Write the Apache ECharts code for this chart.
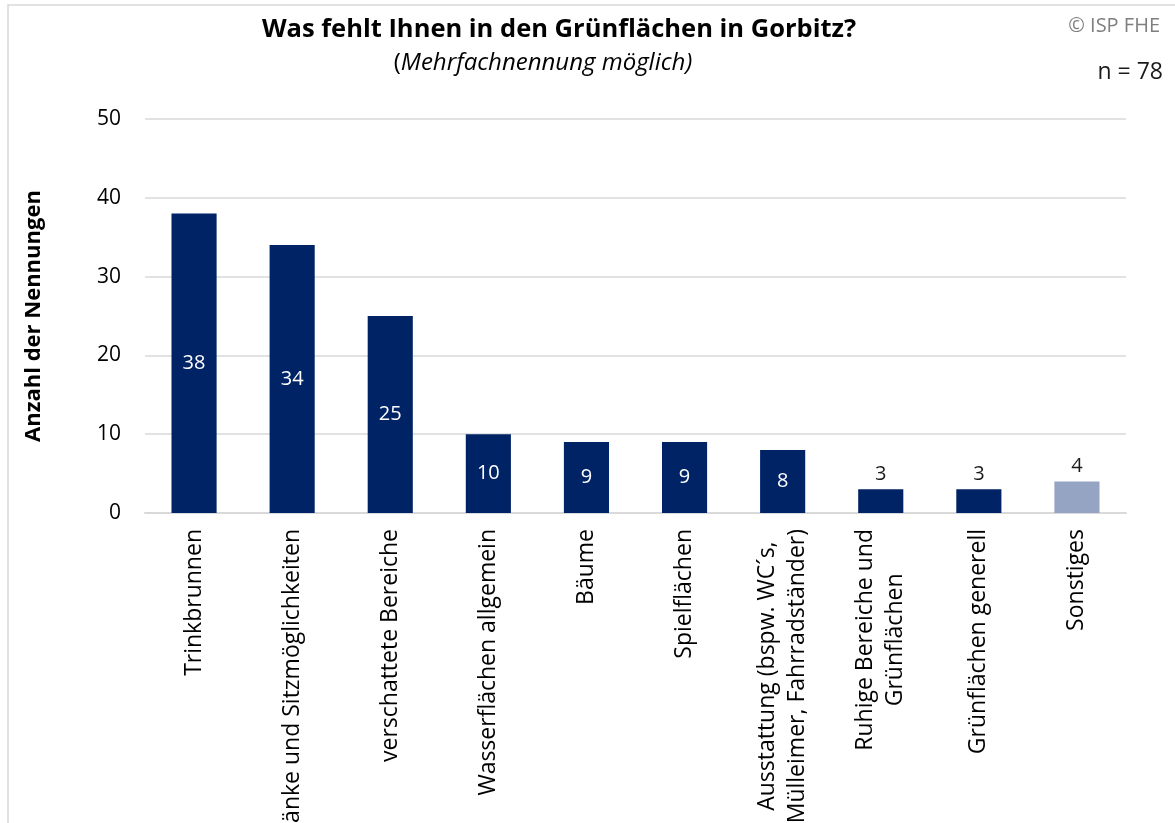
<!DOCTYPE html>
<html>
<head>
<meta charset="utf-8">
<script src="https://cdn.jsdelivr.net/npm/echarts@6/dist/echarts.min.js"></script>
<style>
  html, body { margin: 0; padding: 0; background: #fff; }
  #chart { width: 1175px; height: 823px; }
</style>
</head>
<body>
<div id="chart"></div>
<script>
// Kategorien (Mehrfachnennung) und Anzahl der Nennungen
const categories = [
  'Trinkbrunnen',
  'Bänke und Sitzmöglichkeiten',
  'verschattete Bereiche',
  'Wasserflächen allgemein',
  'Bäume',
  'Spielflächen',
  'Ausstattung (bspw. WC´s,\nMülleimer, Fahrradständer)',
  'Ruhige Bereiche und\nGrünflächen',
  'Grünflächen generell',
  'Sonstiges'
];
const counts = [38, 34, 25, 10, 9, 9, 8, 3, 3, 4];
const yTicks = [0, 10, 20, 30, 40, 50];

const FONT = 'Open Sans';
const NAVY = '#002366';
const LIGHT = '#96a4c3';

// Werte ab 5 stehen im Balken (weiß), kleinere Werte darüber
const seriesData = counts.map((v, i) => {
  const isOther = categories[i] === 'Sonstiges';
  const inside = v >= 5;
  return {
    value: v,
    itemStyle: { color: isOther ? LIGHT : NAVY },
    label: {
      position: inside ? 'inside' : 'top',
      color: inside ? '#ffffff' : '#1a1a1a',
      distance: 5
    }
  };
});

const chart = echarts.init(document.getElementById('chart'), null, { renderer: 'canvas' });

chart.setOption({
  animation: false,
  backgroundColor: '#ffffff',
  textStyle: { fontFamily: FONT },
  graphic: [
    {
      type: 'rect',
      shape: { x: 8, y: 5, width: 1200, height: 900 },
      style: { fill: 'none', stroke: '#d9d9d9', lineWidth: 1.5 },
      silent: true
    },
    {
      type: 'text',
      right: 15, top: 16,
      style: { text: '© ISP FHE', fill: '#7f7f7f', font: '20px "' + FONT + '"' }
    },
    {
      type: 'text',
      right: 12, top: 61,
      style: { text: 'n = 78', fill: '#1a1a1a', font: '23px "' + FONT + '"' }
    }
  ],
  title: [
    {
      text: 'Was fehlt Ihnen in den Grünflächen in Gorbitz?',
      left: 554, top: 12, textAlign: 'center',
      textStyle: { fontFamily: FONT, fontWeight: 'bold', fontSize: 25.5, color: '#000' }
    },
    {
      text: '{n|(}{i|Mehrfachnennung möglich)}',
      left: 538, top: 46, textAlign: 'center',
      textStyle: {
        fontFamily: FONT, fontSize: 24, fontWeight: 'normal', color: '#000',
        rich: {
          n: { fontFamily: FONT, fontSize: 24, fontWeight: 'normal', color: '#000' },
          i: { fontFamily: FONT, fontSize: 24, fontWeight: 'normal', fontStyle: 'italic', color: '#000' }
        }
      }
    }
  ],
  grid: {
    left: 145, right: 49, top: 119, bottom: 310,
    containLabel: false,
    outerBoundsMode: 'none'
  },
  xAxis: {
    type: 'category',
    data: categories,
    axisTick: { show: false },
    axisLine: { lineStyle: { color: '#d9d9d9', width: 2 } },
    axisLabel: {
      interval: 0,
      rotate: 90,
      margin: 16,
      color: '#000',
      fontFamily: FONT,
      fontSize: 23,
      lineHeight: 30,
      hideOverlap: false,
      formatter: (v) => v.split('\n').map(s => '{c|' + s + '}').join('\n'),
      rich: { c: { align: 'center', fontFamily: FONT, fontSize: 23, lineHeight: 30, color: '#000' } }
    }
  },
  yAxis: {
    type: 'value',
    min: yTicks[0],
    max: yTicks[yTicks.length - 1],
    interval: 10,
    name: 'Anzahl der Nennungen',
    nameLocation: 'middle',
    nameRotate: 90,
    nameGap: 100,
    nameTextStyle: { fontFamily: FONT, fontWeight: 'bold', fontSize: 22, color: '#000' },
    axisLine: { show: false },
    axisTick: { show: false },
    axisLabel: { color: '#000', fontFamily: FONT, fontSize: 21, margin: 24 },
    splitLine: { lineStyle: { color: '#d9d9d9', width: 1.5 } }
  },
  series: [{
    type: 'bar',
    data: seriesData,
    barWidth: '46%',
    label: {
      show: true,
      fontFamily: FONT,
      fontSize: 20
    }
  }]
});
</script>
</body>
</html>
